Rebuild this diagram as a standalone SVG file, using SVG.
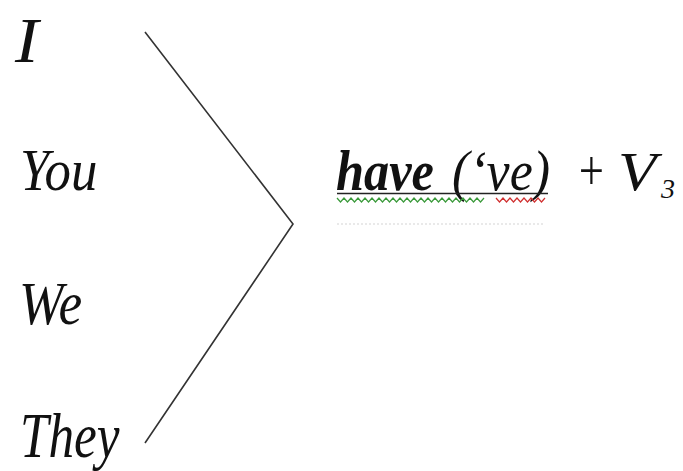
<svg xmlns="http://www.w3.org/2000/svg" width="683" height="471" viewBox="0 0 683 471">
<style>
.conn{fill:none;stroke:#333;stroke-width:1.6}
.green{fill:none;stroke:#3a9a3a;stroke-width:1.2}
.red{fill:none;stroke:#d03030;stroke-width:1.2}
</style>
<rect width="683" height="471" fill="#fff"/>
<g font-family="Liberation Serif, Times New Roman, serif" font-style="italic" fill="#111">
<g id="n-I"><text font-size="64" transform="translate(15,62) scale(1.1,1)">I</text></g>
<g id="n-You"><text font-size="60" transform="translate(20,190) scale(0.88,1)">You</text></g>
<g id="n-We"><text font-size="62" transform="translate(19,324) scale(0.86,1)">We</text></g>
<g id="n-They"><text font-size="64" transform="translate(20,457) scale(0.8,1)">They</text></g>
</g>
<g id="connectors"><polyline class="conn" points="145,32 293,224 145,443"/></g>
<g id="n-formula" font-family="Liberation Serif, Times New Roman, serif" font-style="italic" fill="#111">
<text font-size="56" font-weight="bold" x="336" y="190" textLength="98" lengthAdjust="spacingAndGlyphs">have</text>
<text font-size="56" x="452" y="190" textLength="98" lengthAdjust="spacingAndGlyphs">(‘ve)</text>
<text font-size="56" x="576" y="190" textLength="30" lengthAdjust="spacingAndGlyphs">+</text>
<text font-size="56" transform="translate(618,190) scale(1.12,1)">V</text>
<text font-size="28" x="661" y="198">3</text>
<line x1="337" y1="193.5" x2="548" y2="193.5" stroke="#222" stroke-width="1.4"/>
<path class="green" d="M337,198 l3.5,4 3.5,-4 3.5,4 3.5,-4 3.5,4 3.5,-4 3.5,4 3.5,-4 3.5,4 3.5,-4 3.5,4 3.5,-4 3.5,4 3.5,-4 3.5,4 3.5,-4 3.5,4 3.5,-4 3.5,4 3.5,-4 3.5,4 3.5,-4 3.5,4 3.5,-4 3.5,4 3.5,-4 3.5,4 3.5,-4 3.5,4 3.5,-4 3.5,4 3.5,-4 3.5,4 3.5,-4 3.5,4 3.5,-4 3.5,4 3.5,-4 3.5,4 3.5,-4 3.5,4 3.5,-4"/>
<path class="red" d="M496,198 l3.5,4 3.5,-4 3.5,4 3.5,-4 3.5,4 3.5,-4 3.5,4 3.5,-4 3.5,4 3.5,-4 3.5,4 3.5,-4 3.5,4 3.5,-4"/>
<line x1="337" y1="224" x2="545" y2="224" stroke="#e2e2e2" stroke-width="1.5" stroke-dasharray="2,2"/>
</g>
</svg>
